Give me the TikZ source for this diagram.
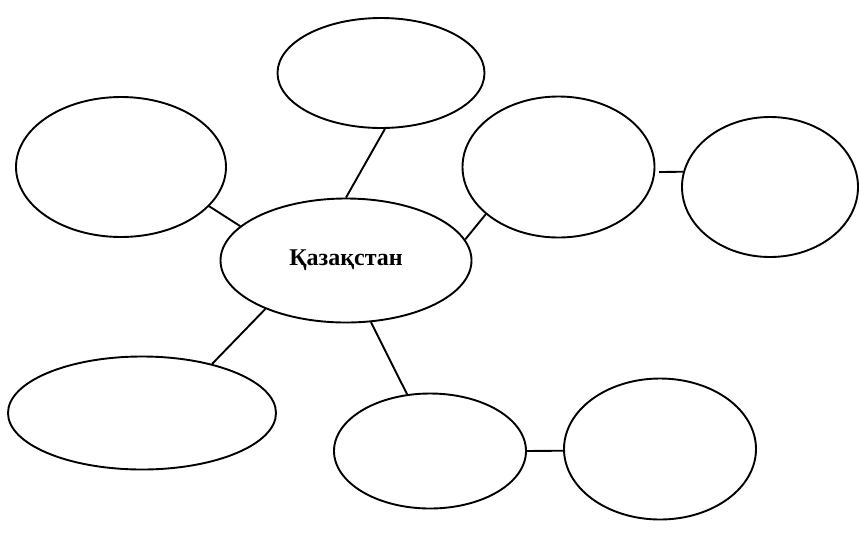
\documentclass[tikz,border=0pt]{standalone}
\usepackage{fontspec}
\setmainfont{Liberation Serif}
\usetikzlibrary{shapes.geometric}
\begin{document}
\begin{tikzpicture}[x=1pt,y=-1pt,
  bubble/.style={draw=black, line width=1.9pt, ellipse, inner sep=0pt},
  link/.style={draw=black, line width=1.9pt}]
\useasboundingbox (0,0) rectangle (859,539);
\node[bubble, minimum width=207pt, minimum height=110pt] (top) at (381,73) {};
\node[bubble, minimum width=210pt, minimum height=140pt] (left) at (121,167) {};
\node[bubble, minimum width=192pt, minimum height=141pt] (rmid) at (558.5,167) {};
\node[bubble, minimum width=176pt, minimum height=140pt] (far) at (770,187) {};
\node[bubble, minimum width=251pt, minimum height=124pt, font=\bfseries\fontsize{24}{28}\selectfont] (kz) at (346,260.5) {Қазақстан};
\node[bubble, minimum width=268pt, minimum height=113pt] (bl) at (142,413) {};
\node[bubble, minimum width=192pt, minimum height=115pt] (bm) at (430,451) {};
\node[bubble, minimum width=192pt, minimum height=141pt] (br) at (660,449) {};
\draw[link] (top.-86) -- (kz.90);
\draw[link] (left.-24) -- (kz.162);
\draw[link] (rmid.-147.6) -- (kz.10.9);
\draw[link] ([xshift=4pt]rmid.-3) -- (far.170);
\draw[link] (kz.-149.9) -- (bl.35.1);
\draw[link] (kz.-68.5) -- (bm.112);
\draw[link] (bm.east) -- (br.181);
\end{tikzpicture}
\end{document}
